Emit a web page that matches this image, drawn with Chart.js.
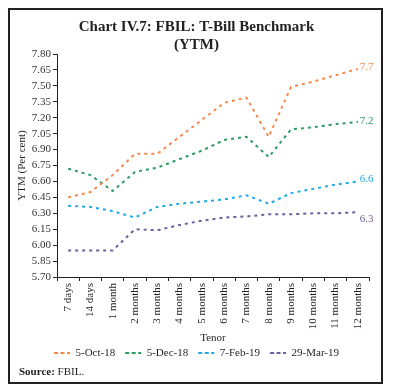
<!DOCTYPE html>
<html><head><meta charset="utf-8">
<script src="https://cdn.jsdelivr.net/npm/chart.js@4/dist/chart.umd.min.js"></script>
<style>
html,body{margin:0;padding:0;background:#fff;}
#frame{position:absolute;left:8px;top:8px;width:371px;height:372px;border:2px solid #231f20;background:#fff;}
#wrap{position:absolute;left:0;top:0;width:371px;height:356px;}
#src{position:absolute;left:9px;top:355px;font:11px "Liberation Serif",serif;color:#231f20;line-height:12px;}
</style></head>
<body>
<div id="frame"><div id="wrap"><canvas id="c"></canvas></div><div id="src"><b>Source:</b> FBIL.</div></div>
<script>
const categories = ['7 days','14 days','1 month','2 months','3 months','4 months','5 months','6 months','7 months','8 months','9 months','10 months','11 months','12 months'];
const seriesNames = ['5-Oct-18','5-Dec-18','7-Feb-19','29-Mar-19'];
const oct18 = [6.45, 6.50, 6.66, 6.86, 6.86, 7.02, 7.18, 7.34, 7.39, 7.02, 7.49, 7.54, 7.60, 7.66];
const dec18 = [6.72, 6.66, 6.51, 6.69, 6.73, 6.81, 6.89, 6.99, 7.02, 6.83, 7.09, 7.11, 7.14, 7.16];
const feb19 = [6.37, 6.36, 6.32, 6.26, 6.36, 6.39, 6.41, 6.43, 6.47, 6.39, 6.49, 6.53, 6.57, 6.60];
const mar19 = [5.95, 5.95, 5.95, 6.15, 6.14, 6.19, 6.23, 6.26, 6.27, 6.29, 6.29, 6.30, 6.30, 6.31];
const yMin = 5.70, yMax = 7.80, yStep = 0.15;

const colors = ['#F5884A', '#2E9B62', '#22AAE6', '#6E5E9E'];
const labelShift = [-2, -1, -2, 7];
const fam = '"Liberation Serif", "DejaVu Serif", serif';
const ink = '#231f20';

const endLabels = {
  id: 'endLabels',
  afterDatasetsDraw(chart) {
    const c = chart.ctx;
    chart.data.datasets.forEach((ds, i) => {
      const meta = chart.getDatasetMeta(i);
      const p = meta.data[meta.data.length - 1];
      const v = ds.data[ds.data.length - 1];
      c.save();
      c.font = '11px ' + fam;
      c.fillStyle = ds.borderColor;
      c.textAlign = 'left';
      c.textBaseline = 'middle';
      c.fillText(v.toFixed(1), p.x + 2, p.y + labelShift[i]);
      c.restore();
    });
  }
};

const allSeries = [oct18, dec18, feb19, mar19];
new Chart(document.getElementById('c'), {
  type: 'line',
  data: {
    labels: categories,
    datasets: allSeries.map((d, i) => ({
      label: seriesNames[i],
      data: d,
      borderColor: colors[i],
      backgroundColor: colors[i],
      borderWidth: 2,
      borderDash: [3, 4],
      pointRadius: 0,
      tension: 0,
      fill: false
    }))
  },
  options: {
    responsive: true,
    maintainAspectRatio: false,
    animation: false,
    layout: { padding: { left: 14, right: 12, top: 0, bottom: 0 } },
    plugins: {
      title: {
        display: true,
        text: ['Chart IV.7: FBIL: T-Bill Benchmark', '(YTM)'],
        font: { family: fam, size: 15, weight: 'bold', lineHeight: 1.2 },
        color: ink,
        padding: { top: 8, bottom: 0 }
      },
      legend: {
        position: 'bottom',
        maxHeight: 28.5,
        labels: {
          usePointStyle: true,
          pointStyle: 'line',
          pointStyleWidth: 16,
          padding: 10,
          font: { family: fam, size: 11 },
          color: ink,
          generateLabels(chart) {
            const items = Chart.defaults.plugins.legend.labels.generateLabels(chart);
            items.forEach(it => { it.lineDash = [4, 2.5]; it.lineWidth = 2; });
            return items;
          }
        }
      },
      tooltip: { enabled: false }
    },
    scales: {
      x: {
        offset: true,
        grid: { drawOnChartArea: false, offset: true, tickLength: 4, color: ink },
        border: { color: ink, width: 1 },
        ticks: { maxRotation: 90, minRotation: 90, autoSkip: false, padding: 2, font: { family: fam, size: 11 }, color: ink },
        title: { display: true, text: 'Tenor', font: { family: fam, size: 11 }, color: ink, padding: { top: 0, bottom: -7 } },
        afterFit(s) { s.height = 60.5; }
      },
      y: {
        min: yMin,
        max: yMax,
        grid: { drawOnChartArea: false, tickLength: 4, color: ink },
        border: { color: ink, width: 1 },
        ticks: { stepSize: yStep, autoSkip: false, padding: 2, font: { family: fam, size: 11 }, color: '#333', callback: v => Number(v).toFixed(2) },
        title: { display: true, text: 'YTM (Per cent)', font: { family: fam, size: 11 }, color: ink, padding: { top: -8.6, bottom: 0 } },
        afterFit(s) { s.width = 33; }
      }
    }
  },
  plugins: [endLabels]
});
</script>
</body></html>
